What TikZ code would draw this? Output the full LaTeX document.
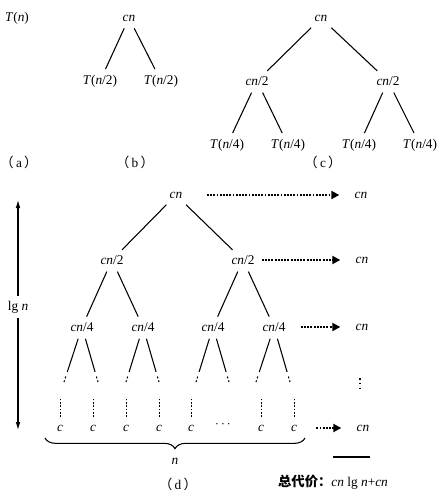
\documentclass[tikz,border=0pt]{standalone}
\usepackage{amsmath,amssymb}
\usepackage{fontspec}
\setmainfont{Liberation Serif}
\newfontfamily\cjk{Noto Sans CJK SC}
\usetikzlibrary{calc,positioning,arrows.meta,decorations.pathreplacing}

\begin{document}
\begin{tikzpicture}[x=0.75pt,y=-0.75pt,font=\normalsize,
    edge/.style={line width=0.8pt, shorten <=2pt, shorten >=1pt},
    tail/.style={line width=0.8pt, dash pattern=on 1.5pt off 1.5pt},
    vdots/.style={line width=0.7pt, dash pattern=on 1.2pt off 1.3pt},
    dotarrow/.style={line width=1.4pt, densely dotted, shorten >=8pt, -{Triangle[length=6pt,width=6pt]}},
    caption/.style={font=\normalsize}]
  \useasboundingbox (0,0) rectangle (439,490);

  % (a)
  \node (ta) at (17,18) {\textit{T}(\textit{n})};
  \node[caption] (capa) at (19,162) {{\cjk （}\,a\,{\cjk ）}};

  % (b)
  \node (b0) at (129,18) {\textit{cn}};
  \node (b1) at (100,81) {\textit{T}(\textit{n}/2)};
  \node (b2) at (161,81) {\textit{T}(\textit{n}/2)};
  \draw[edge] (b0) -- (b1);
  \draw[edge] (b0) -- (b2);
  \node[caption] (capb) at (135,162) {{\cjk （}\,b\,{\cjk ）}};

  % (c)
  \node (c0) at (321,18) {\textit{cn}};
  \node (c1) at (257,81) {\textit{cn}/2};
  \node (c2) at (388,81) {\textit{cn}/2};
  \node (c11) at (227,145) {\textit{T}(\textit{n}/4)};
  \node (c12) at (288,145) {\textit{T}(\textit{n}/4)};
  \node (c21) at (359,145) {\textit{T}(\textit{n}/4)};
  \node (c22) at (420,145) {\textit{T}(\textit{n}/4)};
  \draw[edge] (c0) -- (c1);
  \draw[edge] (c0) -- (c2);
  \draw[edge] (c1) -- (c11);
  \draw[edge] (c1) -- (c12);
  \draw[edge] (c2) -- (c21);
  \draw[edge] (c2) -- (c22);
  \node[caption] (capc) at (323,162) {{\cjk （}\,c\,{\cjk ）}};

  % (d) recursion tree
  \node (d0) at (176,195) {\textit{cn}};
  \node (d1) at (112,260) {\textit{cn}/2};
  \node (d2) at (243,260) {\textit{cn}/2};
  \node (q1) at (82,327) {\textit{cn}/4};
  \node (q2) at (143,327) {\textit{cn}/4};
  \node (q3) at (213,327) {\textit{cn}/4};
  \node (q4) at (274,327) {\textit{cn}/4};
  \draw[edge] (d0) -- (d1);
  \draw[edge] (d0) -- (d2);
  \draw[edge] (d1) -- (q1);
  \draw[edge] (d1) -- (q2);
  \draw[edge] (d2) -- (q3);
  \draw[edge] (d2) -- (q4);

  % leaves
  \node (l1) at (60,428) {\textit{c}};
  \node (l2) at (93,428) {\textit{c}};
  \node (l3) at (126,428) {\textit{c}};
  \node (l4) at (159,428) {\textit{c}};
  \node (l5) at (191,428) {\textit{c}};
  \node (l6) at (224,425) {$\cdots$};
  \node (l7) at (261,428) {\textit{c}};
  \node (l8) at (294,428) {\textit{c}};

  % open branch ends below cn/4
  \coordinate (t1) at (64,382);
  \coordinate (t2) at (98,382);
  \coordinate (t3) at (126,382);
  \coordinate (t4) at (159,382);
  \coordinate (t5) at (196,382);
  \coordinate (t6) at (229,382);
  \coordinate (t7) at (256,382);
  \coordinate (t8) at (290,382);
  \draw[edge] (q1) -- ($(q1)!0.84!(t1)$);
  \draw[tail] ($(q1)!0.9!(t1)$) -- (t1);
  \draw[edge] (q1) -- ($(q1)!0.84!(t2)$);
  \draw[tail] ($(q1)!0.9!(t2)$) -- (t2);
  \draw[edge] (q2) -- ($(q2)!0.84!(t3)$);
  \draw[tail] ($(q2)!0.9!(t3)$) -- (t3);
  \draw[edge] (q2) -- ($(q2)!0.84!(t4)$);
  \draw[tail] ($(q2)!0.9!(t4)$) -- (t4);
  \draw[edge] (q3) -- ($(q3)!0.84!(t5)$);
  \draw[tail] ($(q3)!0.9!(t5)$) -- (t5);
  \draw[edge] (q3) -- ($(q3)!0.84!(t6)$);
  \draw[tail] ($(q3)!0.9!(t6)$) -- (t6);
  \draw[edge] (q4) -- ($(q4)!0.84!(t7)$);
  \draw[tail] ($(q4)!0.9!(t7)$) -- (t7);
  \draw[edge] (q4) -- ($(q4)!0.84!(t8)$);
  \draw[tail] ($(q4)!0.9!(t8)$) -- (t8);

  % dotted columns above the leaves
  \draw[vdots] ($(l1.north)+(0,-3)$) -- ++(0,-20);
  \draw[vdots] ($(l2.north)+(0,-3)$) -- ++(0,-20);
  \draw[vdots] ($(l3.north)+(0,-3)$) -- ++(0,-20);
  \draw[vdots] ($(l4.north)+(0,-3)$) -- ++(0,-20);
  \draw[vdots] ($(l5.north)+(0,-3)$) -- ++(0,-20);
  \draw[vdots] ($(l7.north)+(0,-3)$) -- ++(0,-20);
  \draw[vdots] ($(l8.north)+(0,-3)$) -- ++(0,-20);

  % level costs
  \node (r1) at (361,195) {\textit{cn}};
  \node (r2) at (362,260) {\textit{cn}};
  \node (r3) at (362,327) {\textit{cn}};
  \node (r4) at (363,428) {\textit{cn}};
  \coordinate (v1) at (360,378);
  \coordinate (v2) at (360,391);
  \draw[line width=1.2pt, dash pattern=on 1.2pt off 2.4pt] (v1) -- (v2);
  \draw[dotarrow, shorten <=15pt] (d0) -- (r1);
  \draw[dotarrow, shorten <=2pt] (d2) -- (r2);
  \draw[dotarrow, shorten <=8pt] (q4) -- (r3);
  \draw[dotarrow, shorten <=11pt] (l8) -- (r4);

  \coordinate (s1) at (333,457);
  \coordinate (s2) at (370,457);
  \draw[line width=0.8pt] (s1) -- (s2);
  \node[caption] (total) at (333,482) {{\cjk\bfseries 总代价：}\textit{cn} lg \textit{n}+\textit{cn}};

  % height of the tree
  \node[caption] (lgn) at (18,307) {lg \textit{n}};
  \coordinate (up) at (18,200);
  \coordinate (dn) at (18,430);
  \draw[line width=0.8pt, -{Latex[length=6pt,width=3.5pt]}] (lgn) -- (up);
  \draw[line width=0.8pt, -{Latex[length=6pt,width=3.5pt]}] (lgn) -- (dn);

  % number of leaves
  \coordinate (br1) at (45,438);
  \coordinate (br2) at (305,438);
  \draw[line width=0.8pt, decorate, decoration={brace, mirror, amplitude=8pt}] (br1) -- (br2);
  \node (nl) at (175,461) {\textit{n}};
  \node[caption] (capd) at (178,484) {{\cjk （}\,d\,{\cjk ）}};
\end{tikzpicture}
\end{document}
